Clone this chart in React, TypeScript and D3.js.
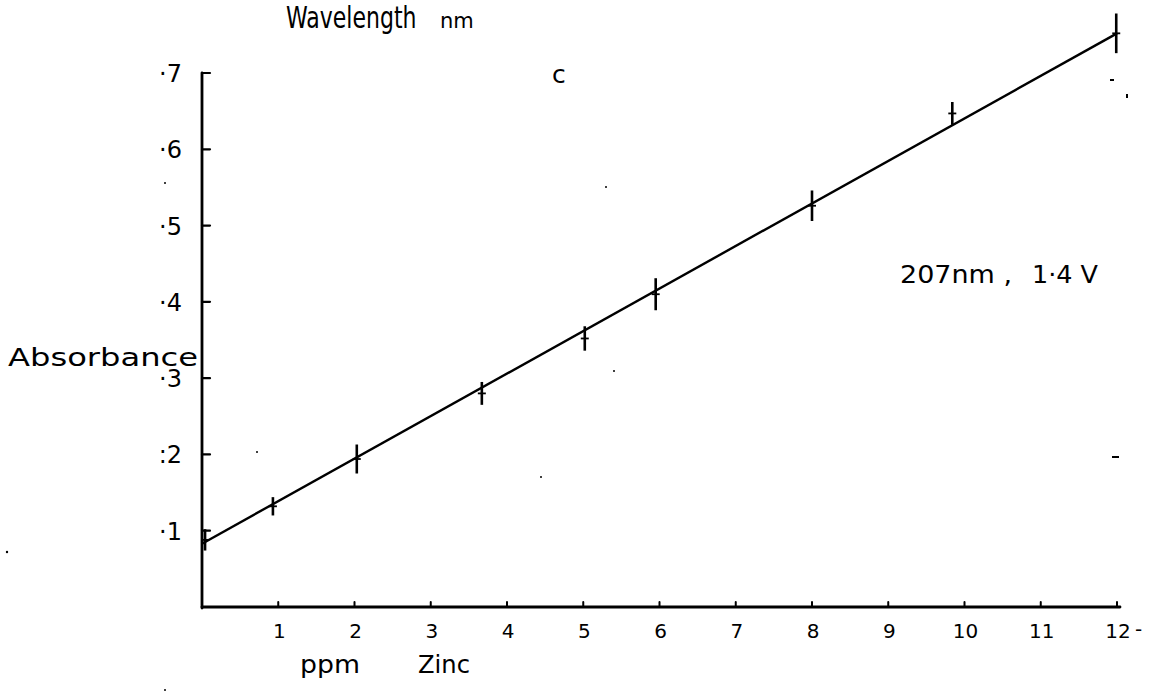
import React from "react";
import * as d3 from "d3";

// Zinc calibration: concentration (ppm) vs absorbance, with vertical error bars
const concentration = [0.04, 0.93, 2.03, 3.67, 5.02, 5.95, 8.0, 9.84, 11.99];
const absorbance = [0.088, 0.132, 0.194, 0.28, 0.352, 0.41, 0.526, 0.647, 0.752];
const errorHalf = [0.014, 0.012, 0.019, 0.015, 0.016, 0.021, 0.02, 0.015, 0.026];

// Straight calibration line drawn through the points
const fitX = [0, 12];
const fitY = [0.083, 0.752];

const xTicks = [1, 2, 3, 4, 5, 6, 7, 8, 9, 10, 11, 12];
const xTickLabels = ["1", "2", "3", "4", "5", "6", "7", "8", "9", "10", "11", "12"];
const yTicks = [0.1, 0.2, 0.3, 0.4, 0.5, 0.6, 0.7];
const yTickLabels = ["·1", ":2", "·3", "·4", "·5", "·6", "·7"];

const W = 1162;
const H = 692;
const FONT = "'DejaVu Sans', 'Noto Sans', sans-serif";

export default function App() {
  const x = d3.scaleLinear().domain([0, 12]).range([202, 1117]);
  const y = d3.scaleLinear().domain([0, 0.7]).range([607, 73]);

  const line = d3
    .line<number>()
    .x((_, i) => x(fitX[i]))
    .y((d) => y(d));

  return (
    <div style={{ position: "absolute", left: 0, top: 0 }}>
      <svg width={W} height={H} style={{ display: "block", background: "#fff" }}>
        <g fill="#000" fontFamily={FONT}>
          <g transform="translate(286,28) scale(1,1.35)">
            <text x={0} y={0} fontSize={22}>
              Wavelength
            </text>
          </g>
          <text x={440} y={28} fontSize={21}>
            nm
          </text>
          <text x={552} y={83} fontSize={25}>c</text>
          <text x={900} y={283} fontSize={25} textLength={112} lengthAdjust="spacingAndGlyphs">
            207nm ,
          </text>
          <text x={1032} y={283} fontSize={25} textLength={66} lengthAdjust="spacingAndGlyphs">
            1·4 V
          </text>
          <text x={8} y={366} fontSize={24} textLength={190} lengthAdjust="spacingAndGlyphs">
            Absorbance
          </text>
          <text x={300} y={673} fontSize={25} textLength={60} lengthAdjust="spacingAndGlyphs">
            ppm
          </text>
          <text x={418} y={673} fontSize={25} textLength={52} lengthAdjust="spacingAndGlyphs">
            Zinc
          </text>
        </g>

        {/* axes */}
        <g stroke="#000" strokeWidth={2.8} fill="none" strokeLinecap="round">
          <line x1={x(0)} y1={y(0) + 1} x2={x(0)} y2={y(0.7)} />
          <line x1={x(0)} y1={y(0)} x2={x(12) + 3} y2={y(0)} />
          {yTicks.map((t) => (
            <line key={"yt" + t} x1={x(0)} x2={x(0) + 8} y1={y(t)} y2={y(t)} strokeWidth={2.2} />
          ))}
          {xTicks.map((t) => (
            <line key={"xt" + t} x1={x(t)} x2={x(t)} y1={y(0)} y2={y(0) - 5} strokeWidth={2} />
          ))}
        </g>

        <g fill="#000" fontFamily={FONT} fontSize={24}>
          {yTicks.map((t, i) => (
            <text key={"yl" + t} x={x(0) - 20} y={y(t) + 9} textAnchor="end">
              {yTickLabels[i]}
            </text>
          ))}
        </g>
        <g fill="#000" fontFamily={FONT} fontSize={20}>
          {xTicks.map((t, i) => (
            <text key={"xl" + t} x={x(t) + 1} y={y(0) + 31} textAnchor="middle">
              {xTickLabels[i]}
            </text>
          ))}
          <text x={x(12) + 18} y={y(0) + 29}>-</text>
        </g>

        {/* calibration line */}
        <path d={line(fitY) || ""} stroke="#000" strokeWidth={2.4} fill="none" />

        {/* measured points with error bars */}
        <g stroke="#000" strokeWidth={2.6}>
          {concentration.map((c, i) => (
            <g key={"pt" + i}>
              <line
                x1={x(c)}
                x2={x(c)}
                y1={y(absorbance[i] - errorHalf[i])}
                y2={y(absorbance[i] + errorHalf[i])}
              />
              <line x1={x(c) - 4} x2={x(c) + 4} y1={y(absorbance[i])} y2={y(absorbance[i])} strokeWidth={1.8} />
            </g>
          ))}
        </g>

        {/* small stray pencil marks */}
        <g fill="#000">
          <rect x={1110} y={79} width={4} height={2} />
          <rect x={1126} y={94} width={2} height={4} />
          <rect x={1112} y={456} width={7} height={2} />
          <circle cx={606} cy={187} r={1} />
          <circle cx={614} cy={371} r={1} />
          <circle cx={257} cy={452} r={1} />
          <circle cx={541} cy={477} r={1} />
          <circle cx={165} cy={183} r={1} />
          <circle cx={7} cy={552} r={1.2} />
          <circle cx={165} cy={690} r={1} />
        </g>
      </svg>
    </div>
  );
}
